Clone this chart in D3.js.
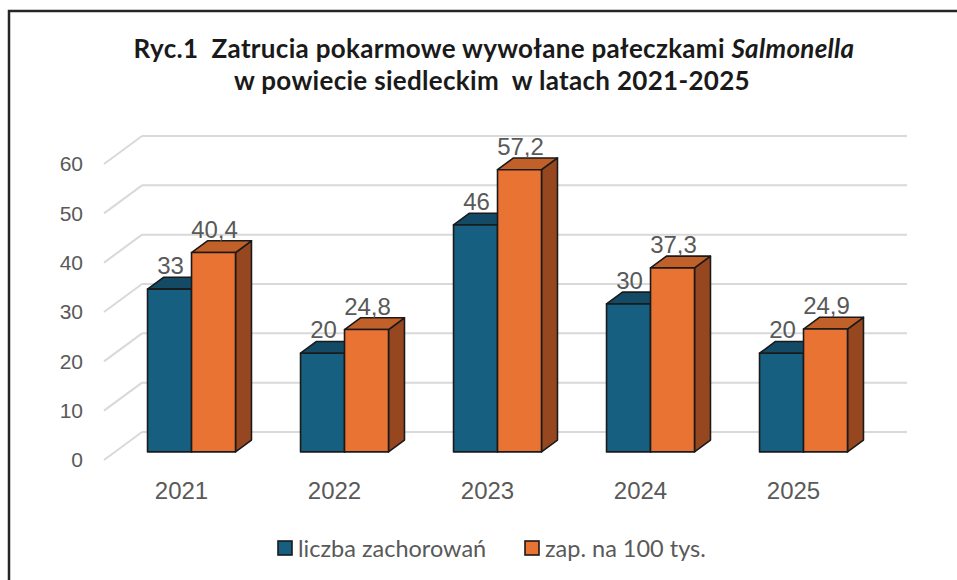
<!DOCTYPE html>
<html>
<head>
<meta charset="utf-8">
<script src="https://cdn.jsdelivr.net/npm/d3@7"></script>
<style>
  body { margin: 0; background: #fff; }
  svg text { white-space: pre; }
</style>
</head>
<body>
<div id="chart"></div>
<script>
// data
const years = ["2021", "2022", "2023", "2024", "2025"];
const seriesNames = ["liczba zachorowań", "zap. na 100 tys."];
const cases = [33, 20, 46, 30, 20];
const rates = [40.4, 24.8, 57.2, 37.3, 24.9];
const yTicks = [0, 10, 20, 30, 40, 50, 60];

const cte = {
  w: 957,
  h: 580,
  depthX: 38,   // floor depth (projection)
  depthY: -28,
  barFront: 0.29, // bar front/back as fraction of depth
  barBack: 0.71
};

const colors = [
  { front: "#175F80", top: "#134B66", side: "#0F3F56" },
  { front: "#E87333", top: "#C2602A", side: "#974720" }
];

const svg = d3.select("#chart").append("svg")
  .attr("width", cte.w)
  .attr("height", cte.h);

// chart border
svg.append("rect")
  .attr("x", 9).attr("y", 11)
  .attr("width", cte.w + 20).attr("height", cte.h + 20)
  .attr("fill", "none")
  .attr("stroke", "#262626")
  .attr("stroke-width", 2.5);

// title
const title = svg.append("text")
  .attr("text-anchor", "middle")
  .style("font-family", "Lato")
  .style("font-weight", "bold")
  .style("font-size", "26px")
  .style("letter-spacing", "0.3px")
  .style("fill", "#1a1a1a");
const line1 = title.append("tspan").attr("x", 494).attr("y", 58);
line1.append("tspan").text("Ryc.1  Zatrucia pokarmowe wywołane pałeczkami ");
line1.append("tspan").style("font-style", "italic").text("Salmonella");
title.append("tspan").attr("x", 492).attr("y", 90).text("w powiecie siedleckim  w latach 2021-2025");

// scales (front plane of the floor)
const yScale = d3.scaleLinear().domain([0, 60]).range([460, 164]);
const xScale = d3.scaleBand()
  .domain(years)
  .range([104, 869])
  .paddingInner(0.425)
  .paddingOuter(0.2125);
const xSub = d3.scaleBand().domain([0, 1]).range([0, xScale.bandwidth()]);

// gridlines: back wall + side wall diagonals
const grid = svg.append("g").attr("stroke", "#d9d9d9").attr("stroke-width", 2).attr("fill", "none");
grid.selectAll(".back").data(yTicks).enter().append("line")
  .attr("x1", 104 + cte.depthX).attr("x2", 907)
  .attr("y1", d => yScale(d) + cte.depthY).attr("y2", d => yScale(d) + cte.depthY);
grid.selectAll(".side").data(yTicks).enter().append("line")
  .attr("x1", 104).attr("x2", 104 + cte.depthX)
  .attr("y1", d => yScale(d)).attr("y2", d => yScale(d) + cte.depthY);

// y axis labels
svg.append("g").selectAll("text").data(yTicks).enter().append("text")
  .attr("x", 83)
  .attr("y", d => yScale(d))
  .attr("dy", "0.35em")
  .attr("text-anchor", "end")
  .style("font-family", "Liberation Sans")
  .style("font-size", "21px")
  .style("fill", "#595959")
  .text(d => d);

// x axis labels
svg.append("g").selectAll("text").data(years).enter().append("text")
  .attr("x", d => xScale(d) + xScale.bandwidth() / 2 + 1)
  .attr("y", 499)
  .attr("text-anchor", "middle")
  .style("font-family", "Liberation Sans")
  .style("font-size", "24px")
  .style("fill", "#595959")
  .text(d => d);

// 3d bars
const fdx = cte.depthX * cte.barFront, fdy = cte.depthY * cte.barFront;
const bdx = cte.depthX * (cte.barBack - cte.barFront), bdy = cte.depthY * (cte.barBack - cte.barFront);

const barData = [];
years.forEach((yr, i) => {
  [cases[i], rates[i]].forEach((v, s) => {
    const x0 = xScale(yr) + xSub(s) + fdx;
    const x1 = x0 + xSub.bandwidth();
    const yTop = yScale(v) + fdy;
    const yBase = yScale(0) + fdy;
    barData.push({ yr, s, v, x0, x1, yTop, yBase });
  });
});

const bars = svg.append("g").selectAll("g").data(barData).enter().append("g")
  .attr("stroke", "#1a1a1a")
  .attr("stroke-width", 1.6)
  .attr("stroke-linejoin", "round");

bars.append("path")
  .attr("fill", d => colors[d.s].side)
  .attr("d", d => `M${d.x1},${d.yTop}L${d.x1 + bdx},${d.yTop + bdy}L${d.x1 + bdx},${d.yBase + bdy}L${d.x1},${d.yBase}Z`);
bars.append("path")
  .attr("fill", d => colors[d.s].top)
  .attr("d", d => `M${d.x0},${d.yTop}L${d.x1},${d.yTop}L${d.x1 + bdx},${d.yTop + bdy}L${d.x0 + bdx},${d.yTop + bdy}Z`);
bars.append("rect")
  .attr("fill", d => colors[d.s].front)
  .attr("x", d => d.x0).attr("y", d => d.yTop)
  .attr("width", d => d.x1 - d.x0).attr("height", d => d.yBase - d.yTop);

// value labels
svg.append("g").selectAll("text").data(barData).enter().append("text")
  .attr("x", d => (d.x0 + d.x1) / 2 + 1)
  .attr("y", d => d.yTop - 15)
  .attr("text-anchor", "middle")
  .style("font-family", "Liberation Sans")
  .style("font-size", "24px")
  .style("fill", "#595959")
  .text(d => String(d.v).replace(".", ","));

// legend
const legendX = [278, 525];
const legend = svg.append("g").selectAll("g").data(seriesNames).enter().append("g")
  .attr("transform", (d, i) => `translate(${legendX[i]},541)`);
legend.append("rect")
  .attr("width", 14).attr("height", 14)
  .attr("fill", (d, i) => colors[i].front)
  .attr("stroke", "#1a1a1a").attr("stroke-width", 1.6);
legend.append("text")
  .attr("x", 20).attr("y", 16)
  .style("font-family", "Lato")
  .style("font-size", "23.5px")
  .style("fill", "#595959")
  .text(d => d);
</script>
</body>
</html>
